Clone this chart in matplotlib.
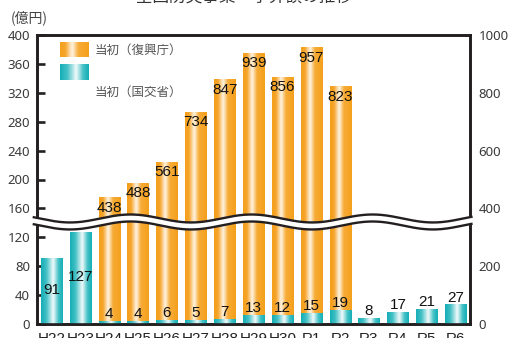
import numpy as np
import matplotlib
matplotlib.use("Agg")
import matplotlib.pyplot as plt
from matplotlib.colors import LinearSegmentedColormap
from matplotlib import font_manager

# 年度ラベル
years = ["H22", "H23", "H24", "H25", "H26", "H27", "H28", "H29", "H30",
         "R1", "R2", "R3", "R4", "R5", "R6"]
# 当初（国交省）億円  左軸
mlit = [91, 127, 4, 4, 6, 5, 7, 13, 12, 15, 19, 8, 17, 21, 27]
# 当初（復興庁）億円  右軸  H24〜R2
reconst_years = ["H24", "H25", "H26", "H27", "H28", "H29", "H30", "R1", "R2"]
reconst = [438, 488, 561, 734, 847, 939, 856, 957, 823]

left_ticks = list(range(0, 401, 40))
right_ticks = list(range(0, 1001, 200))

jp = ["Noto Sans CJK JP", "DejaVu Sans"]
names = {f.name for f in font_manager.fontManager.ttflist}
narrow = "Liberation Sans Narrow" if "Liberation Sans Narrow" in names else "Liberation Sans"
num_font = "Noto Sans"

orange_cm = LinearSegmentedColormap.from_list(
    "orange", [(0, "#F5A01C"), (0.18, "#F6A52A"), (0.42, "#FFF5E6"),
               (0.64, "#F7AB36"), (1, "#F5A01C")])
teal_cm = LinearSegmentedColormap.from_list(
    "teal", [(0, "#14AEB5"), (0.25, "#44C1C6"), (0.56, "#F3FBFB"),
             (0.8, "#45C2C7"), (1, "#14AEB5")])
grad = np.linspace(0, 1, 64).reshape(1, -1)


def shade_bars(ax, bars, cmap):
    # 棒の中をグラデーション画像で塗る
    for b in bars:
        x, y = b.get_x(), b.get_y()
        w, h = b.get_width(), b.get_height()
        b.set_facecolor("none")
        b.set_edgecolor("none")
        im = ax.imshow(grad, cmap=cmap, extent=(x, x + w, y, y + h),
                       aspect="auto", interpolation="bicubic", zorder=2)
        im.set_clip_path(b)


fig = plt.figure(figsize=(5.1, 3.38), dpi=100)
ax = fig.add_axes([37 / 510, 14 / 338, 433 / 510, 289 / 338])
ax_r = ax.twinx()
ax.set_zorder(ax_r.get_zorder() + 1)
ax.patch.set_visible(False)

x = np.arange(len(years))
xr = np.array([years.index(y) for y in reconst_years])
bw = 0.73

ob = ax_r.bar(xr, reconst, width=bw)
shade_bars(ax_r, ob, orange_cm)
tb = ax.bar(x, mlit, width=bw)
shade_bars(ax, tb, teal_cm)

ax.set_xlim(-0.5, len(years) - 0.5)
ax.set_ylim(0, 400)
ax_r.set_ylim(0, 1000)

# 数値ラベル
for xi, v in zip(xr, reconst):
    ax_r.annotate(str(v), (xi, v), xytext=(0, -7.5), textcoords="offset points",
                  ha="center", va="center", fontsize=11, family=narrow,
                  color="#111111", zorder=5)
for xi, v in zip(x, mlit):
    if v > 50:
        ax.text(xi, v / 2 + 2, str(v), ha="center", va="center", fontsize=11,
                family=narrow, color="#111111", zorder=5)
    else:
        ax.annotate(str(v), (xi, v), xytext=(0, 5), textcoords="offset points",
                    ha="center", va="center", fontsize=11, family=narrow,
                    color="#111111", zorder=5)

# 軸まわり
for a in (ax, ax_r):
    for s in a.spines.values():
        s.set_linewidth(1.9)
        s.set_color("#231F20")
ax.set_yticks(left_ticks)
ax.set_yticklabels([str(t) for t in left_ticks], family=num_font, fontsize=9.5,
                   color="#3a3a3a")
ax.tick_params(axis="y", direction="in", length=6, width=1.9, color="#231F20",
               pad=5)
ax_r.set_yticks(right_ticks)
ax_r.set_yticklabels([str(t) for t in right_ticks], family=num_font, fontsize=9.5,
                     color="#3a3a3a")
ax_r.tick_params(axis="y", length=0, pad=6)
ax.set_xticks(x)
ax.set_xticklabels(years, family=narrow, fontsize=11, color="#222222")
ax.tick_params(axis="x", length=0, pad=5.5)

# 省略の波線
xs = np.linspace(-0.01, 1.006, 400)
period = 121 / 433
yc = 0.353
wave = yc - 0.0138 * np.cos(2 * np.pi * (xs - 33 / 433) / period)
off = 3.5 / 289
ax.fill_between(xs, wave - off, wave + off, color="white", transform=ax.transAxes,
                zorder=6, clip_on=False, lw=0)
for sgn in (-1, 1):
    ax.plot(xs, wave + sgn * off, color="#231F20", lw=1.7, transform=ax.transAxes,
            zorder=7, clip_on=False, solid_capstyle="butt")

# 凡例
sw1 = ax.inset_axes([23 / 433, (324 - 57) / 289, 28 / 433, 15 / 289])
sw1.imshow(grad, cmap=orange_cm, aspect="auto", interpolation="bicubic")
sw1.axis("off")
sw2 = ax.inset_axes([23 / 433, (324 - 80) / 289, 28 / 433, 16 / 289])
sw2.imshow(grad, cmap=teal_cm, aspect="auto", interpolation="bicubic")
sw2.axis("off")
ax.text(58 / 433, (324 - 50) / 289, "当初（復興庁）", transform=ax.transAxes,
        ha="left", va="center", fontsize=9, family=jp, color="#555555")
ax.text(58 / 433, (324 - 92) / 289, "当初（国交省）", transform=ax.transAxes,
        ha="left", va="center", fontsize=9, family=jp, color="#555555")

fig.text(11 / 510, 1 - 18 / 338, "(億円)", ha="left", va="center", fontsize=10,
         family=jp, color="#444444")
fig.text(235 / 510, 1 + 3 / 338, "・全国防災事業　予算額の推移", ha="center",
         va="center", fontsize=12, family=jp, color="#333333")

fig.savefig("out.png", dpi=100)
